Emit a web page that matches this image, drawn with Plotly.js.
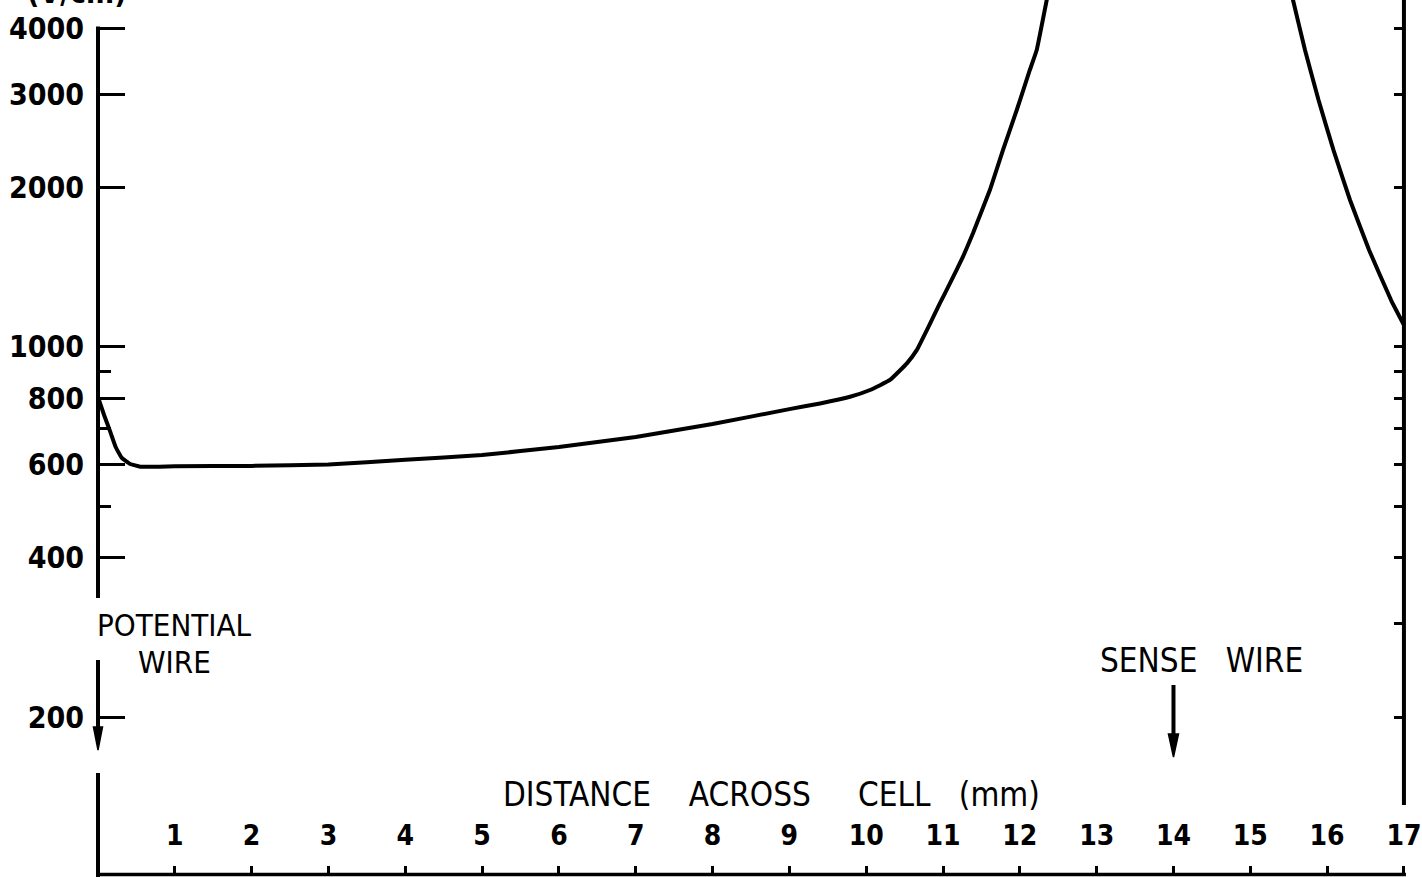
<!DOCTYPE html>
<html>
<head>
<meta charset="utf-8">
<script src="https://cdn.plot.ly/plotly-3.0.1.min.js"></script>
<style>html,body{margin:0;padding:0;background:#fff;}#chart{width:1422px;height:877px;}</style>
</head>
<body>
<div id="chart"></div>
<script>
// Field strength (V/cm) vs distance across cell (mm)
const leftX = [0, 0.08, 0.16, 0.23, 0.31, 0.42, 0.55, 1, 2, 3, 4, 5, 6, 7, 8, 9, 9.4, 9.79, 10.05, 10.31, 10.53, 10.66, 10.79, 10.96, 11.09, 11.26, 11.39, 11.61, 11.78, 11.96, 12.13, 12.22, 12.35, 12.39];
const leftY = [804, 743, 691, 647, 617, 601, 594, 595, 596, 600, 612, 625, 647, 676, 715, 763, 782, 805, 829, 866, 931, 987, 1076, 1209, 1318, 1480, 1639, 1978, 2353, 2801, 3333, 3636, 4519, 4823];
const rightX = [15.50, 15.556, 15.712, 15.888, 16.083, 16.298, 16.546, 16.832, 17.0];
const rightY = [4928, 4519, 3636, 2925, 2353, 1894, 1524, 1226, 1100];

const xTickVals = [1, 2, 3, 4, 5, 6, 7, 8, 9, 10, 11, 12, 13, 14, 15, 16, 17];
const xTickText = ['1', '2', '3', '4', '5', '6', '7', '8', '9', '10', '11', '12', '13', '14', '15', '16', '17'];
const yMajorVals = [200, 400, 600, 800, 1000, 2000, 3000, 4000];
const yMajorText = ['200', '400', '600', '800', '1000', '2000', '3000', '4000'];
const yMinorVals = [500, 700, 900];
const yRightVals = [200, 300, 400, 500, 600, 700, 800, 900, 1000, 2000, 3000, 4000];

const FONT = 'DejaVu Sans Condensed, DejaVu Sans, sans-serif';
const H = 875;                 // plot height in px
const W = 1324;                // plot width in px
const PXMM = 76.82;            // px per mm on x
const py = p => (H - p) / H;   // pixel row -> paper y
const pxm = mm => mm * PXMM / W; // mm -> paper x

const traces = [
  {x: leftX, y: leftY, type: 'scatter', mode: 'lines', line: {color: '#000', width: 4, shape: 'spline', smoothing: 0.3}, showlegend: false, hoverinfo: 'skip'},
  {x: rightX, y: rightY, xaxis: 'x', yaxis: 'y2', type: 'scatter', mode: 'lines', line: {color: '#000', width: 4, shape: 'spline', smoothing: 0.3}, showlegend: false, hoverinfo: 'skip'}
];

function arrow(xmm, tail, tip, half) {
  const xp = pxm(xmm), hw = half / W;
  return [
    {type: 'line', xref: 'paper', yref: 'paper', x0: xp, x1: xp, y0: py(tail), y1: py(tip - 18), line: {color: '#000', width: 4}},
    {type: 'path', xref: 'paper', yref: 'paper', path: `M ${xp - hw},${py(tip - 23)} L ${xp},${py(tip)} L ${xp + hw},${py(tip - 23)} Z`, fillcolor: '#000', line: {color: '#000', width: 1.5}}
  ];
}

const layout = {
  width: 1422, height: 877,
  margin: {l: 98, r: 0, t: 0, b: 2, pad: 0},
  paper_bgcolor: '#fff', plot_bgcolor: '#fff',
  showlegend: false,
  xaxis: {
    range: [0, W / PXMM], showgrid: false, zeroline: false, showline: false,
    ticks: 'inside', ticklen: 9, tickwidth: 3, tickcolor: '#000',
    tickvals: xTickVals, ticktext: xTickText,
    ticklabelposition: 'inside', ticklabelstandoff: 18,
    tickfont: {family: FONT, size: 28, color: '#000', weight: 'bold'}
  },
  yaxis: {
    type: 'log', range: [2.0028, 3.655], showgrid: false, zeroline: false, showline: false,
    ticks: 'inside', ticklen: 27, tickwidth: 3, tickcolor: '#000',
    tickvals: yMajorVals, ticktext: yMajorText,
    ticklabelstandoff: 13,
    tickfont: {family: FONT, size: 30, color: '#000', weight: 'bold'},
    minor: {tickvals: yMinorVals, ticks: 'inside', ticklen: 13, tickwidth: 3, tickcolor: '#000', showgrid: false}
  },
  yaxis2: {
    type: 'log', range: [2.0028, 3.655], overlaying: 'y', side: 'right', anchor: 'free', position: pxm(17),
    showgrid: false, zeroline: false, showline: false, showticklabels: false,
    ticks: 'inside', ticklen: 10, tickwidth: 3, tickcolor: '#000', tickvals: yRightVals
  },
  shapes: [
    {type: 'line', xref: 'paper', yref: 'paper', x0: 0, x1: 0, y0: py(26.5), y1: py(598), line: {color: '#000', width: 4}},
    {type: 'line', xref: 'paper', yref: 'paper', x0: 0, x1: 0, y0: py(773), y1: py(877), line: {color: '#000', width: 4}},
    {type: 'line', xref: 'paper', yref: 'paper', x0: pxm(17), x1: pxm(17), y0: py(-2), y1: py(805), line: {color: '#000', width: 4}},
    {type: 'line', xref: 'paper', yref: 'paper', x0: -2 / W, x1: pxm(17) + 2 / W, y0: py(874.5), y1: py(874.5), line: {color: '#000', width: 3.5}},
    ...arrow(0, 660, 750, 4.5),
    ...arrow(14, 685, 757, 5)
  ],
  annotations: [
    {xref: 'paper', yref: 'paper', x: (77 - 98) / W, y: py(-7), text: '(V/cm)', showarrow: false, xanchor: 'center', yanchor: 'middle', font: {family: FONT, size: 30, color: '#000', weight: 'bold'}},
    {xref: 'x', yref: 'paper', x: 1.0, y: py(625), text: 'POTENTIAL', showarrow: false, xanchor: 'center', yanchor: 'middle', font: {family: FONT, size: 31, color: '#000'}},
    {xref: 'x', yref: 'paper', x: 1.0, y: py(662), text: 'WIRE', showarrow: false, xanchor: 'center', yanchor: 'middle', font: {family: FONT, size: 31, color: '#000'}},
    {xref: 'x', yref: 'paper', x: 14.36, y: py(660), text: 'SENSE\u00a0\u00a0\u00a0WIRE', showarrow: false, xanchor: 'center', yanchor: 'middle', font: {family: FONT, size: 33, color: '#000'}},
    {xref: 'x', yref: 'paper', x: 8.77, y: py(794), text: 'DISTANCE\u00a0\u00a0\u00a0\u00a0ACROSS\u00a0\u00a0\u00a0\u00a0\u00a0CELL\u00a0\u00a0\u00a0(mm)', showarrow: false, xanchor: 'center', yanchor: 'middle', font: {family: FONT, size: 33, color: '#000'}}
  ]
};

Plotly.newPlot('chart', traces, layout, {displayModeBar: false, staticPlot: true});
</script>
</body>
</html>
